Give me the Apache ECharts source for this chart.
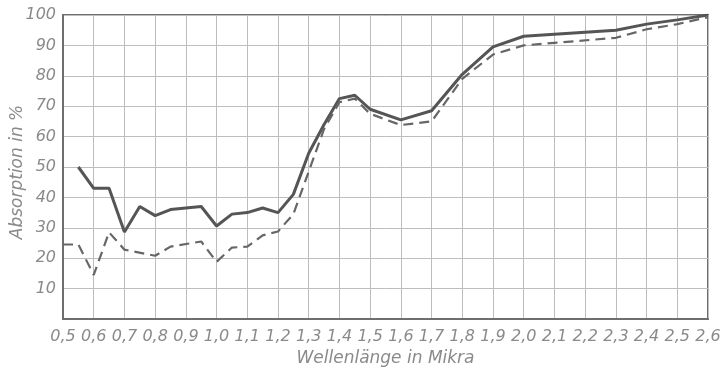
<!DOCTYPE html>
<html>
<head>
<meta charset="utf-8">
<script src="https://cdn.jsdelivr.net/npm/echarts@6/dist/echarts.min.js"></script>
<style>
  html, body { margin: 0; padding: 0; background: #fff; }
  #chart { width: 724px; height: 379px; }
</style>
</head>
<body>
<div id="chart"></div>
<script>
// Wellenlänge (Mikra) und Absorption (%)
const solidX = [0.55, 0.6, 0.65, 0.7, 0.75, 0.8, 0.85, 0.95, 1.0, 1.05, 1.1, 1.15, 1.2, 1.25, 1.3, 1.35, 1.4, 1.45, 1.5, 1.6, 1.7, 1.8, 1.9, 2.0, 2.3, 2.4, 2.5, 2.6];
const solidY = [50, 43, 43, 28.6, 37, 34, 36, 37, 30.6, 34.5, 35, 36.5, 35, 41, 54.5, 64, 72.5, 73.6, 69, 65.5, 68.5, 80.5, 89.5, 93, 95, 97, 98.4, 100];

const dashX = [0.5, 0.55, 0.6, 0.65, 0.7, 0.8, 0.85, 0.95, 1.0, 1.05, 1.1, 1.15, 1.2, 1.25, 1.3, 1.35, 1.4, 1.45, 1.5, 1.6, 1.7, 1.8, 1.9, 2.0, 2.3, 2.4, 2.5, 2.6];
const dashY = [24.5, 24.5, 14.5, 28.5, 22.8, 20.8, 23.8, 25.5, 18.8, 23.5, 23.8, 27.5, 28.8, 34.5, 48.5, 62.5, 71.3, 72.5, 67.5, 63.8, 65, 79, 87, 90, 92.5, 95.3, 97, 99.3];

const xTicks = { min: 0.5, max: 2.6, step: 0.1 };
const yTicks = { min: 0, max: 100, step: 10 };

const pair = (xs, ys) => xs.map((x, i) => [x, ys[i]]);

const labelFont = {
  fontFamily: 'DejaVu Sans',
  fontStyle: 'italic',
  fontSize: 16,
  color: '#8a8a8a'
};

const chart = echarts.init(document.getElementById('chart'));
chart.setOption({
  animation: false,
  backgroundColor: '#ffffff',
  grid: {
    left: 63, right: 16, top: 15, bottom: 60,
    outerBoundsMode: 'none',
    containLabel: false,
    show: true,
    borderColor: '#6e6e6e',
    borderWidth: 2
  },
  // y axis title, placed by hand
  graphic: [{
    type: 'text',
    rotation: Math.PI / 2,
    position: [18, 172],
    style: {
      text: 'Absorption in %',
      x: 0, y: 0,
      align: 'center',
      verticalAlign: 'middle',
      font: 'italic 17px "DejaVu Sans"',
      fill: '#8a8a8a'
    }
  }],
  xAxis: {
    type: 'value',
    min: xTicks.min,
    max: xTicks.max,
    interval: xTicks.step,
    name: 'Wellenlänge in Mikra',
    nameLocation: 'middle',
    nameGap: 28,
    nameTextStyle: Object.assign({}, labelFont, { fontSize: 17 }),
    axisLine: { show: true, lineStyle: { color: '#6e6e6e', width: 2 } },
    axisTick: { show: false },
    axisLabel: Object.assign({}, labelFont, {
      margin: 10,
      formatter: v => v.toFixed(1).replace('.', ',')
    }),
    splitLine: { show: true, lineStyle: { color: '#bdbdbd', width: 1 } }
  },
  yAxis: {
    type: 'value',
    min: yTicks.min,
    max: yTicks.max,
    interval: yTicks.step,
    axisLine: { show: true, lineStyle: { color: '#6e6e6e', width: 2 } },
    axisTick: { show: false },
    axisLabel: Object.assign({}, labelFont, {
      margin: 7,
      formatter: v => (v === 0 ? '' : String(v))
    }),
    splitLine: { show: true, lineStyle: { color: '#bdbdbd', width: 1 } }
  },
  series: [
    {
      type: 'line',
      data: pair(solidX, solidY),
      symbol: 'none',
      lineStyle: { color: '#555555', width: 3 }
    },
    {
      type: 'line',
      data: pair(dashX, dashY),
      symbol: 'none',
      lineStyle: { color: '#666666', width: 2.2, type: [10, 6] }
    }
  ]
});
</script>
</body>
</html>
